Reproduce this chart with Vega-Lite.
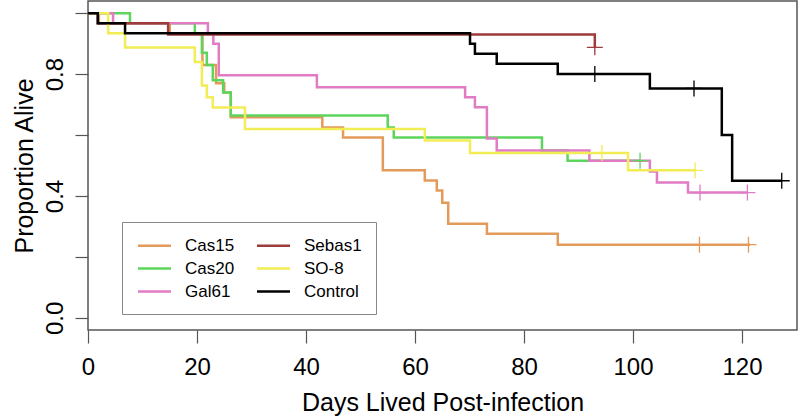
{
  "$schema": "https://vega.github.io/schema/vega-lite/v6.json",
  "width": 709,
  "height": 329,
  "autosize": {"type": "none"},
  "padding": {"left": 88, "top": 1, "right": 3, "bottom": 86},
  "background": "white",
  "config": {
    "font": "Liberation Sans",
    "view": {"stroke": "#555", "strokeWidth": 1.5},
    "axis": {
      "grid": false,
      "domain": false,
      "tickColor": "#555",
      "tickSize": 13,
      "tickWidth": 1.2,
      "labelColor": "black",
      "titleColor": "black",
      "titleFontWeight": "normal",
      "labelFontSize": 24,
      "titleFontSize": 25,
      "labelFlush": false,
      "labelOverlap": false
    }
  },
  "datasets": {
    "curves": [
      {"group": "Cas15", "day": 0, "surv": 1},
      {"group": "Cas15", "day": 2, "surv": 0.967},
      {"group": "Cas15", "day": 15, "surv": 0.933},
      {"group": "Cas15", "day": 21, "surv": 0.83},
      {"group": "Cas15", "day": 23.5, "surv": 0.77},
      {"group": "Cas15", "day": 25, "surv": 0.74},
      {"group": "Cas15", "day": 26.2, "surv": 0.658},
      {"group": "Cas15", "day": 43, "surv": 0.625},
      {"group": "Cas15", "day": 46.8, "surv": 0.592},
      {"group": "Cas15", "day": 54.1, "surv": 0.484},
      {"group": "Cas15", "day": 61.8, "surv": 0.451},
      {"group": "Cas15", "day": 64, "surv": 0.418},
      {"group": "Cas15", "day": 65, "surv": 0.378},
      {"group": "Cas15", "day": 66.1, "surv": 0.309},
      {"group": "Cas15", "day": 73.2, "surv": 0.276},
      {"group": "Cas15", "day": 86.2, "surv": 0.24},
      {"group": "Cas15", "day": 121.5, "surv": 0.24},

      {"group": "Cas20", "day": 0, "surv": 1},
      {"group": "Cas20", "day": 7.7, "surv": 0.967},
      {"group": "Cas20", "day": 19.6, "surv": 0.934},
      {"group": "Cas20", "day": 20.9, "surv": 0.87},
      {"group": "Cas20", "day": 21.8, "surv": 0.83},
      {"group": "Cas20", "day": 22.9, "surv": 0.78},
      {"group": "Cas20", "day": 24.8, "surv": 0.74},
      {"group": "Cas20", "day": 26.2, "surv": 0.664},
      {"group": "Cas20", "day": 55, "surv": 0.625},
      {"group": "Cas20", "day": 56.1, "surv": 0.592},
      {"group": "Cas20", "day": 83.3, "surv": 0.549},
      {"group": "Cas20", "day": 88, "surv": 0.516},
      {"group": "Cas20", "day": 101.3, "surv": 0.516},

      {"group": "Gal61", "day": 0, "surv": 1},
      {"group": "Gal61", "day": 4.6, "surv": 0.967},
      {"group": "Gal61", "day": 22, "surv": 0.934},
      {"group": "Gal61", "day": 23, "surv": 0.9},
      {"group": "Gal61", "day": 24, "surv": 0.796},
      {"group": "Gal61", "day": 42, "surv": 0.757},
      {"group": "Gal61", "day": 69.2, "surv": 0.724},
      {"group": "Gal61", "day": 71, "surv": 0.691},
      {"group": "Gal61", "day": 73.2, "surv": 0.589},
      {"group": "Gal61", "day": 75, "surv": 0.549},
      {"group": "Gal61", "day": 92, "surv": 0.516},
      {"group": "Gal61", "day": 103.1, "surv": 0.48},
      {"group": "Gal61", "day": 104.4, "surv": 0.444},
      {"group": "Gal61", "day": 110.1, "surv": 0.411},
      {"group": "Gal61", "day": 121, "surv": 0.411},

      {"group": "Sebas1", "day": 0, "surv": 1},
      {"group": "Sebas1", "day": 1.8, "surv": 0.967},
      {"group": "Sebas1", "day": 14.7, "surv": 0.93},
      {"group": "Sebas1", "day": 93, "surv": 0.888},

      {"group": "SO-8", "day": 0, "surv": 1},
      {"group": "SO-8", "day": 3.7, "surv": 0.934},
      {"group": "SO-8", "day": 6.8, "surv": 0.887},
      {"group": "SO-8", "day": 19.6, "surv": 0.84},
      {"group": "SO-8", "day": 20.9, "surv": 0.763},
      {"group": "SO-8", "day": 21.8, "surv": 0.724},
      {"group": "SO-8", "day": 22.9, "surv": 0.69},
      {"group": "SO-8", "day": 28.8, "surv": 0.62},
      {"group": "SO-8", "day": 61.8, "surv": 0.582},
      {"group": "SO-8", "day": 70.1, "surv": 0.541},
      {"group": "SO-8", "day": 99.1, "surv": 0.484},
      {"group": "SO-8", "day": 111.4, "surv": 0.484},

      {"group": "Control", "day": 0, "surv": 1},
      {"group": "Control", "day": 1.8, "surv": 0.967},
      {"group": "Control", "day": 6.8, "surv": 0.934},
      {"group": "Control", "day": 70.1, "surv": 0.9},
      {"group": "Control", "day": 71, "surv": 0.867},
      {"group": "Control", "day": 75, "surv": 0.834},
      {"group": "Control", "day": 86.2, "surv": 0.8},
      {"group": "Control", "day": 103.1, "surv": 0.753},
      {"group": "Control", "day": 116.3, "surv": 0.6},
      {"group": "Control", "day": 118.2, "surv": 0.45},
      {"group": "Control", "day": 127.3, "surv": 0.45}
    ],
    "censor": [
      {"group": "Cas15", "day": 112.2, "surv": 0.24},
      {"group": "Cas15", "day": 121.2, "surv": 0.24},
      {"group": "Cas20", "day": 101.3, "surv": 0.516},
      {"group": "Gal61", "day": 112.3, "surv": 0.411},
      {"group": "Gal61", "day": 121, "surv": 0.411},
      {"group": "Sebas1", "day": 93, "surv": 0.888},
      {"group": "SO-8", "day": 94.3, "surv": 0.541},
      {"group": "SO-8", "day": 111.4, "surv": 0.484},
      {"group": "Control", "day": 93, "surv": 0.8},
      {"group": "Control", "day": 111.2, "surv": 0.753},
      {"group": "Control", "day": 127.3, "surv": 0.45}
    ]
  },
  "layer": [
    {
      "data": {"name": "curves"},
      "mark": {"type": "line", "interpolate": "step-after", "strokeWidth": 2.5},
      "encoding": {
        "x": {
          "field": "day", "type": "quantitative",
          "scale": {"domain": [0, 130.1], "nice": false, "zero": false},
          "axis": {"values": [0, 20, 40, 60, 80, 100, 120], "title": "Days Lived Post-infection", "labelPadding": 12, "titlePadding": 11}
        },
        "y": {
          "field": "surv", "type": "quantitative",
          "scale": {"domain": [-0.04, 1.04], "nice": false, "zero": false},
          "axis": {
            "values": [0, 0.2, 0.4, 0.6, 0.8, 1.0],
            "labelExpr": "(datum.value == 0 || datum.value == 0.4 || datum.value == 0.8) ? format(datum.value, '.1f') : ''",
            "labelAngle": -90, "labelAlign": "center", "labelBaseline": "alphabetic", "labelPadding": 13,
            "title": "Proportion Alive", "titlePadding": 6
          }
        },
        "color": {
          "field": "group", "type": "nominal",
          "scale": {
            "domain": ["Cas15", "Cas20", "Gal61", "Sebas1", "SO-8", "Control"],
            "range": ["#E39A5B", "#5DD55D", "#E07BC4", "#9E3B3B", "#F2EC55", "#000000"]
          },
          "legend": {
            "title": null, "orient": "none", "legendX": 34, "legendY": 221, "columns": 2,
            "symbolType": "M-2,0L2,0", "symbolSize": 272, "symbolStrokeWidth": 2.5, "symbolOffset": 9,
            "labelFontSize": 17, "labelOffset": 21, "columnPadding": 17, "rowPadding": 5,
            "padding": 14, "strokeColor": "#888", "fillColor": "white"
          }
        },
        "order": {"field": "day", "type": "quantitative"}
      }
    },
    {
      "data": {"name": "censor"},
      "mark": {"type": "point", "shape": "M-1,0L1,0M0,-1L0,1", "filled": false, "size": 256, "strokeWidth": 1.3, "opacity": 1},
      "encoding": {
        "x": {"field": "day", "type": "quantitative"},
        "y": {"field": "surv", "type": "quantitative"},
        "stroke": {
          "field": "group", "type": "nominal",
          "scale": {
            "domain": ["Cas15", "Cas20", "Gal61", "Sebas1", "SO-8", "Control"],
            "range": ["#E39A5B", "#5DD55D", "#E07BC4", "#9E3B3B", "#F2EC55", "#000000"]
          },
          "legend": null
        }
      }
    }
  ]
}
